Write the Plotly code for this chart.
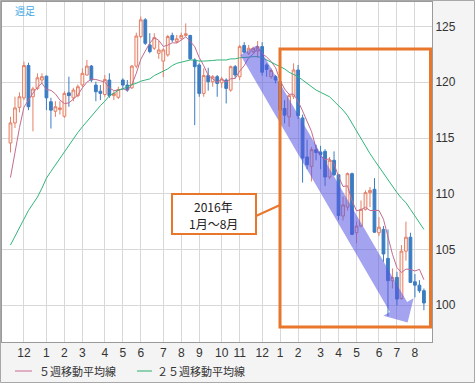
import pandas as pd
import plotly.graph_objects as go

# ---- data (weekly USD/JPY) ----
start_week = "2014-11-10"
n_weeks = 93
weeks = pd.date_range(start_week, periods=n_weeks, freq="7D")

opens = [114.55, 116.35, 117.75, 118.6, 121.5, 118.7, 119.45, 120.2, 120.55, 118.25,
         117.4, 117.55, 116.95, 119.05, 118.6, 118.8, 119.76, 120.65, 121.45, 119.75,
         119.2, 118.9, 120.2, 118.8, 118.65, 120.2, 119.75, 119.5, 121.45, 124.1,
         125.6, 123.35, 123.05, 122.6, 121.9, 122.45, 124.2, 123.65, 123.95, 124.2,
         124.2, 122.0, 121.55, 119.0, 120.6, 120.05, 120.5, 119.95, 120.2, 119.3,
         121.4, 120.5, 123.3, 122.6, 122.75, 122.8, 123.2, 121.55, 120.5, 120.5,
         120.05, 117.65, 116.9, 118.75, 121.1, 116.8, 113.3, 112.45, 113.95, 113.75,
         113.8, 111.5, 113.0, 111.7, 108.0, 108.8, 111.8, 106.5, 107.1, 108.6,
         110.1, 110.4, 106.5, 106.8, 104.2, 102.2, 102.5, 100.6, 104.85, 106.1,
         102.1, 101.8, 101.3]
highs = [116.9, 118.7, 119.1, 121.85, 121.75, 119.6, 120.8, 120.8, 120.6, 118.6,
         118.3, 118.3, 119.2, 120.5, 119.5, 119.8, 121.25, 122.0, 121.55, 120.05,
         119.75, 120.65, 120.8, 119.2, 119.6, 120.35, 120.2, 121.55, 124.45, 125.9,
         125.75, 124.4, 124.4, 123.7, 123.05, 124.25, 124.45, 124.25, 124.45, 125.28,
         124.25, 122.15, 121.7, 121.25, 121.3, 120.65, 120.65, 120.5, 120.35, 121.5,
         121.55, 123.35, 123.6, 123.35, 123.2, 123.7, 123.6, 121.7, 121.25, 120.65,
         120.2, 118.4, 118.95, 121.7, 121.55, 117.1, 114.85, 114.2, 114.4, 114.3,
         114.0, 113.3, 113.8, 111.75, 109.75, 111.9, 111.9, 107.5, 109.4, 110.3,
         110.6, 111.4, 107.9, 107.1, 106.8, 103.3, 103.0, 105.4, 107.5, 106.5,
         102.8, 102.25, 101.5]
lows = [113.7, 115.9, 117.3, 118.4, 117.5, 115.6, 119.3, 119.9, 117.5, 115.85,
        116.9, 117.1, 116.8, 117.8, 118.3, 118.65, 119.55, 120.6, 120.0, 118.3,
        118.4, 118.7, 118.6, 118.4, 118.5, 119.3, 119.15, 119.4, 121.25, 123.95,
        123.35, 122.6, 122.9, 122.1, 120.45, 122.3, 123.6, 123.5, 123.8, 124.1,
        122.0, 116.15, 118.7, 118.7, 119.25, 119.6, 118.7, 119.5, 118.1, 119.15,
        120.35, 120.2, 122.6, 122.45, 122.6, 122.2, 120.6, 120.5, 120.3, 119.9,
        117.2, 116.3, 116.0, 118.5, 116.7, 111.0, 112.2, 111.1, 113.0, 112.2,
        110.7, 111.3, 111.6, 107.65, 107.6, 108.5, 106.3, 105.55, 107.0, 108.5,
        108.8, 106.5, 106.2, 103.9, 99.0, 101.5, 99.98, 100.5, 104.0, 102.0,
        100.7, 101.1, 99.55]
closes = [116.35, 117.7, 118.7, 121.5, 117.8, 119.4, 120.4, 120.5, 118.6, 117.5,
          117.8, 117.7, 119.0, 118.8, 119.3, 119.6, 120.8, 121.45, 120.2, 119.15,
          119.0, 120.25, 118.8, 119.0, 119.35, 119.75, 119.3, 121.45, 124.15, 125.6,
          123.5, 122.75, 124.0, 122.9, 122.9, 124.1, 123.8, 123.9, 124.2, 124.35,
          122.1, 121.4, 119.0, 120.6, 120.05, 120.5, 119.9, 120.3, 119.45, 121.4,
          120.65, 123.2, 122.7, 123.05, 123.05, 123.2, 120.9, 121.15, 121.05, 120.2,
          117.5, 117.05, 118.8, 121.1, 117.0, 113.2, 112.6, 113.95, 113.7, 113.5,
          111.5, 113.0, 111.7, 108.05, 109.0, 111.8, 106.35, 107.1, 108.6, 110.1,
          110.3, 106.55, 107.0, 104.6, 102.2, 102.5, 100.55, 104.85, 106.1, 102.05,
          101.8, 101.3, 100.2]

ma5 = [111.45, 113.81, 115.93, 117.77, 118.41, 119.02, 119.56, 119.92, 119.34, 119.28,
       118.96, 118.4, 118.1, 118.14, 118.5, 118.86, 119.5, 120.0, 120.28, 120.25,
       120.13, 120.03, 119.49, 119.25, 119.29, 119.44, 119.25, 119.78, 120.81, 122.06,
       122.81, 123.5, 124.01, 123.76, 123.21, 123.33, 123.54, 123.52, 123.78, 124.07,
       123.67, 123.19, 122.21, 121.49, 120.62, 120.3, 120.0, 120.26, 120.03, 120.31,
       120.34, 121.0, 121.48, 122.2, 122.53, 123.04, 122.58, 122.27, 121.87, 121.3,
       120.16, 119.39, 118.92, 118.93, 118.29, 117.43, 116.54, 115.57, 114.09, 113.39,
       113.05, 113.13, 112.68, 111.55, 110.65, 110.71, 109.38, 108.46, 108.57, 108.79,
       108.49, 108.53, 108.51, 107.71, 106.13, 104.57, 103.37, 102.94, 103.24, 103.21,
       103.07, 103.22, 102.29]
ma25 = [105.4, 106.2, 107.0, 107.8, 108.5, 109.1, 109.7, 110.5, 111.4, 112.0,
        112.6, 113.2, 113.8, 114.4, 114.9, 115.5, 116.0, 116.5, 117.0, 117.5,
        117.9, 118.3, 118.8, 119.0, 119.3, 119.4, 119.6, 119.8, 119.9, 120.1,
        120.2, 120.3, 120.6, 120.8, 121.0, 121.2, 121.5, 121.7, 121.8, 121.9,
        122.0, 122.0, 121.9, 121.9, 121.9, 121.95, 122.0, 122.0, 122.0, 122.1,
        122.1, 122.2, 122.2, 122.25, 122.3, 122.3, 122.2, 122.0, 121.8, 121.6,
        121.4, 121.2, 120.9, 120.7, 120.5, 120.2, 119.9, 119.6, 119.3, 119.1,
        118.9, 118.7, 118.3, 117.9, 117.5, 117.0, 116.3, 115.6, 115.0, 114.3,
        113.6, 113.0, 112.4, 111.8, 111.2, 110.7, 110.1, 109.6, 109.2, 108.6,
        108.0, 107.3, 106.8]

month_ticks = ["2014-12-01", "2015-01-05", "2015-02-02", "2015-03-02", "2015-04-06",
               "2015-05-04", "2015-06-01", "2015-07-06", "2015-08-03", "2015-08-31",
               "2015-10-05", "2015-11-02", "2015-12-07", "2016-01-04", "2016-02-01",
               "2016-03-07", "2016-04-04", "2016-05-02", "2016-06-06", "2016-07-04",
               "2016-08-01"]
month_labels = ["12", "1", "2", "3", "4", "5", "6", "7", "8", "9", "10", "11", "12",
                "1", "2", "3", "4", "5", "6", "7", "8"]
y_ticks = [100, 105, 110, 115, 120, 125]

label_ma5 = "５週移動平均線"
label_ma25 = "２５週移動平均線"
label_period = "週足"
callout_lines = ["2016年", "1月～8月"]

# ---- styling ----
UP = "#e47f66"
DOWN = "#3b7cc2"
PINK = "#c56b8f"
GREEN = "#33b57a"
ORANGE = "#e8772c"
JP = "Noto Sans CJK JP"
NUM = "Liberation Sans"

# plot area in pixels: x 2..432, y 2..342
def px(x):
    return (x - 2) / 430.0

def py(y):
    return (342 - y) / 340.0

fig = go.Figure()
fig.add_trace(go.Candlestick(
    x=weeks, open=opens, high=highs, low=lows, close=closes,
    increasing=dict(line=dict(color=UP, width=1), fillcolor="#fff0ea"),
    decreasing=dict(line=dict(color=DOWN, width=1), fillcolor=DOWN),
    whiskerwidth=0, showlegend=False, hoverinfo="skip"))
fig.add_trace(go.Scatter(x=weeks, y=ma5, mode="lines",
                         line=dict(color=PINK, width=1), showlegend=False, hoverinfo="skip"))
fig.add_trace(go.Scatter(x=weeks, y=ma25, mode="lines",
                         line=dict(color=GREEN, width=1), showlegend=False, hoverinfo="skip"))

# arrow geometry (pixel space) -> paper
arrow_px = [(240.4, 55), (257.6, 45), (407.1, 302.0), (413.6, 298.2),
            (407.6, 322.6), (383.4, 315.8), (389.9, 312.0)]
path = "M " + " L ".join(f"{px(a):.4f},{py(b):.4f}" for a, b in arrow_px) + " Z"

shapes = [
    # outer frame
    dict(type="rect", xref="paper", yref="paper", x0=px(0.5), x1=px(474.5), y0=py(382.5), y1=py(0.5),
         line=dict(color="#a8a8a8", width=1), layer="below"),
    # arrow
    dict(type="path", xref="paper", yref="paper", path=path,
         fillcolor="rgba(88,88,228,0.55)", line=dict(width=0), layer="above"),
    # orange frame
    dict(type="rect", xref="paper", yref="paper", x0=px(280), x1=px(430.5), y0=py(327), y1=py(49),
         line=dict(color=ORANGE, width=3), layer="above"),
    # connector
    dict(type="line", xref="paper", yref="paper", x0=px(256), y0=py(216), x1=px(280), y1=py(205),
         line=dict(color=ORANGE, width=2), layer="above"),
    # callout box
    dict(type="rect", xref="paper", yref="paper", x0=px(172), x1=px(256), y0=py(234), y1=py(194),
         fillcolor="white", line=dict(color=ORANGE, width=2), layer="above"),
    # legend lines
    dict(type="line", xref="paper", yref="paper", x0=px(15), x1=px(32), y0=py(371), y1=py(371),
         line=dict(color="#d79ab4", width=1.5)),
    dict(type="line", xref="paper", yref="paper", x0=px(137), x1=px(152), y0=py(371), y1=py(371),
         line=dict(color="#6cc59a", width=1.5)),
]

annotations = [
    dict(xref="paper", yref="paper", x=px(13), y=py(10), text=label_period, showarrow=False,
         xanchor="left", yanchor="middle", font=dict(family=JP, size=10, color="#3fa7e6")),
    dict(xref="paper", yref="paper", x=px(213), y=py(206), text=callout_lines[0], showarrow=False,
         xanchor="center", yanchor="middle", font=dict(family=JP, size=12, color="#222")),
    dict(xref="paper", yref="paper", x=px(213), y=py(223), text=callout_lines[1], showarrow=False,
         xanchor="center", yanchor="middle", font=dict(family=JP, size=12, color="#222")),
    dict(xref="paper", yref="paper", x=px(37), y=py(371), text=label_ma5, showarrow=False,
         xanchor="left", yanchor="middle", font=dict(family=JP, size=11, color="#333")),
    dict(xref="paper", yref="paper", x=px(155), y=py(371), text=label_ma25, showarrow=False,
         xanchor="left", yanchor="middle", font=dict(family=JP, size=11, color="#333")),
]

fig.update_layout(
    width=475, height=383,
    margin=dict(l=2, r=43, t=2, b=41),
    paper_bgcolor="#f4f4f4", plot_bgcolor="white",
    boxgap=0.12,
    showlegend=False,
    shapes=shapes, annotations=annotations,
    xaxis=dict(
        type="date", range=["2014-10-27 19:00", "2016-08-27 14:00"],
        tickvals=month_ticks, ticktext=month_labels,
        showgrid=True, gridcolor="#d8d8d8", gridwidth=1,
        showline=True, linecolor="#9a9a9a", linewidth=1, mirror=True,
        ticks="", tickfont=dict(family=NUM, size=12, color="#333"),
        rangeslider=dict(visible=False), zeroline=False, fixedrange=True),
    yaxis=dict(
        side="right", range=[96.7, 127.2], tickvals=y_ticks,
        showgrid=True, gridcolor="#d8d8d8", gridwidth=1,
        showline=True, linecolor="#9a9a9a", linewidth=1, mirror=True,
        ticks="", tickfont=dict(family=NUM, size=12, color="#333"),
        zeroline=False, fixedrange=True),
)

fig.write_html("out.html", config={"displayModeBar": False},
               post_script="document.body.style.margin='0';document.body.style.overflow='hidden';")
